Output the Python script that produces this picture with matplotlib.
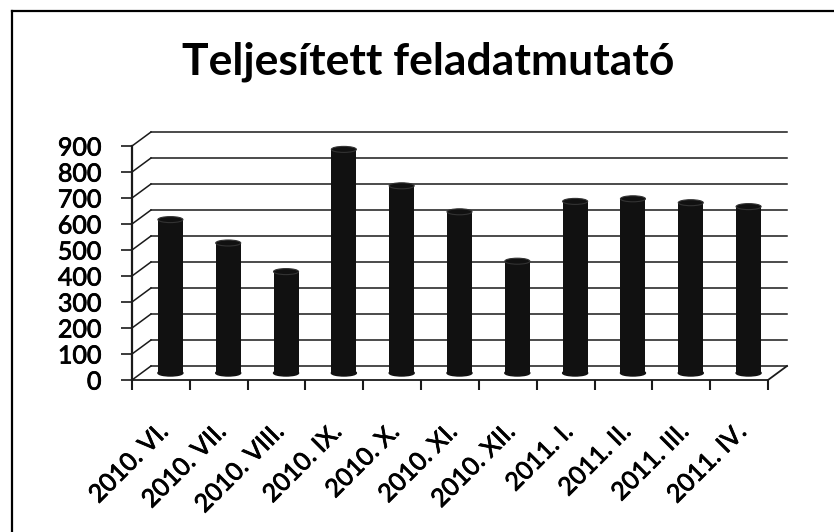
import matplotlib
matplotlib.use("Agg")
import matplotlib.pyplot as plt
import matplotlib.patheffects as pe
from matplotlib.patches import Ellipse
from matplotlib.lines import Line2D

categories = ["2010. VI.", "2010. VII.", "2010. VIII.", "2010. IX.", "2010. X.",
              "2010. XI.", "2010. XII.", "2011. I.", "2011. II.", "2011. III.", "2011. IV."]
values = [590, 500, 390, 860, 720, 620, 430, 660, 670, 655, 640]
yticks = [0, 100, 200, 300, 400, 500, 600, 700, 800, 900]
title = "Teljesített feladatmutató"

W, H = 834, 532
fig = plt.figure(figsize=(W / 100, H / 100), dpi=100)
fig.patch.set_facecolor("white")

# frame (only top and left visible in the scan)
fig.add_artist(Line2D([12 / W, 1.0], [1 - 11 / H, 1 - 11 / H], color="black", lw=1.6))
fig.add_artist(Line2D([12 / W, 12 / W], [0, 1 - 11 / H], color="black", lw=1.6))

ax_l, ax_r, ax_t, ax_b = 132, 768, 146, 380
ax = fig.add_axes([ax_l / W, 1 - ax_b / H, (ax_r - ax_l) / W, (ax_b - ax_t) / H])
n = len(categories)
ax.set_xlim(0, n)
ax.set_ylim(0, 900)
ax.patch.set_alpha(0)

px_x = (ax_r - ax_l) / n          # pixels per category
px_y = (ax_b - ax_t) / 900        # pixels per value unit
dxd = 19 / px_x                   # depth offset in data units
dyd = 14 / px_y

gc = "#1a1a1a"
# back wall gridlines and left-wall diagonals
for v in yticks:
    ax.plot([dxd, n + dxd], [v + dyd, v + dyd], color=gc, lw=1.1, clip_on=False, zorder=1)
    ax.plot([0, dxd], [v, v + dyd], color=gc, lw=1.1, clip_on=False, zorder=1)
# floor right edge
ax.plot([n, n + dxd], [0, dyd], color=gc, lw=1.3, clip_on=False, zorder=1)

# cylinders at mid depth
bw = 25 / px_x
eh = 6 / px_y
cx = [i + 0.5 + dxd / 2 for i in range(n)]
base = dyd / 2
ax.bar(cx, values, width=bw, bottom=base, color="#111111", zorder=3)
for x, v in zip(cx, values):
    ax.add_patch(Ellipse((x, base), bw, eh, color="#111111", zorder=3, clip_on=False))
    ax.add_patch(Ellipse((x, base + v), bw, eh, facecolor="#111111", edgecolor="#333333",
                         lw=0.8, zorder=4, clip_on=False))

for s in ["top", "right"]:
    ax.spines[s].set_visible(False)
ax.spines["left"].set_color(gc)
ax.spines["left"].set_linewidth(1.6)
ax.spines["bottom"].set_color(gc)
ax.spines["bottom"].set_linewidth(1.3)

thick = [pe.withStroke(linewidth=0.6, foreground="black")]

ax.set_yticks(yticks)
ax.set_yticklabels([str(v) for v in yticks], fontsize=18, family="Lato")
for t in ax.get_yticklabels():
    t.set_path_effects(thick)
ax.tick_params(axis="y", length=8, width=1.2, color=gc, pad=14)

ax.set_xticks(range(n + 1))
ax.set_xticklabels([])
ax.tick_params(axis="x", length=7, width=1.5, color=gc, direction="out")

for i, lab in enumerate(categories):
    ax.annotate(lab, xy=(i + 0.5, 0), xycoords=("data", "axes fraction"),
                xytext=(3, -48), textcoords="offset pixels", rotation=45,
                ha="right", va="center", rotation_mode="anchor",
                fontsize=18, family="Lato", color="black", path_effects=thick)

fig.text(428 / W, 1 - 62 / H, title, ha="center", va="center", fontsize=32,
         fontweight="bold", family="Lato")

fig.savefig("out.png", dpi=100)
